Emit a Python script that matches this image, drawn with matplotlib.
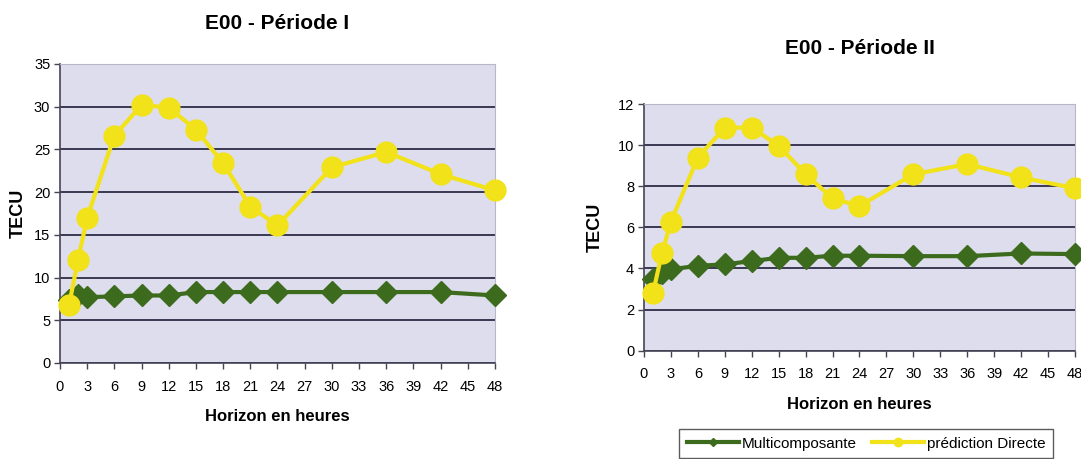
import matplotlib
matplotlib.use("Agg")
import matplotlib.pyplot as plt

# horizon (hours) of each point
heures = [1, 2, 3, 6, 9, 12, 15, 18, 21, 24, 30, 36, 42, 48]

# Periode I
multi_p1 = [7.4, 7.9, 7.7, 7.8, 7.9, 7.9, 8.3, 8.3, 8.3, 8.3, 8.3, 8.3, 8.3, 7.9]
direct_p1 = [6.8, 12.1, 17.0, 26.6, 30.2, 29.9, 27.3, 23.4, 18.3, 16.1, 22.9, 24.7, 22.1, 20.2]

# Periode II
multi_p2 = [3.5, 3.76, 3.96, 4.13, 4.2, 4.36, 4.52, 4.52, 4.62, 4.62, 4.6, 4.6, 4.73, 4.7]
direct_p2 = [2.8, 4.73, 6.28, 9.39, 10.85, 10.85, 9.97, 8.59, 7.41, 7.04, 8.58, 9.08, 8.43, 7.9]

xticks = list(range(0, 49, 3))
titles = ["E00 - Période I", "E00 - Période II"]
labels = ["Multicomposante", "prédiction Directe"]

plt.rcParams['font.family'] = ['Liberation Sans', 'DejaVu Sans']

GREEN = '#3d6b1e'
YELLOW = '#f2e21a'
BG = '#dddded'
GRID = '#2e2c45'

fig = plt.figure(figsize=(10.81, 4.59), dpi=100)
ax1 = fig.add_axes([0.0555, 0.2092, 0.4024, 0.6514])
ax2 = fig.add_axes([0.5957, 0.2359, 0.3987, 0.5375])


def draw(ax, multi, direct, ymax, ystep, title, title_y, ylabelpad):
    ax.set_facecolor(BG)
    ax.plot(heures, multi, color=GREEN, lw=3, marker='D', ms=11,
            mec=GREEN, mfc=GREEN, label=labels[0], zorder=3, clip_on=False)
    ax.plot(heures, direct, color=YELLOW, lw=3, marker='o', ms=15,
            mec=YELLOW, mfc=YELLOW, label=labels[1], zorder=4, clip_on=False)
    ax.set_xlim(0, 48)
    ax.set_ylim(0, ymax)
    ax.set_xticks(xticks)
    ax.set_yticks(range(0, ymax + 1, ystep))
    ax.yaxis.grid(True, color=GRID, lw=1.3)
    ax.set_axisbelow(True)
    for s in ['top', 'right']:
        ax.spines[s].set_color('#b8b8c8')
        ax.spines[s].set_linewidth(0.8)
    for s in ['left', 'bottom']:
        ax.spines[s].set_color('#444455')
        ax.spines[s].set_linewidth(1.2)
    ax.tick_params(labelsize=10.5, length=4, width=1, color='#444455', pad=3)
    ax.tick_params(axis='x', pad=8)
    ax.set_xlabel('Horizon en heures', fontsize=12, fontweight='bold', labelpad=11)
    ax.set_ylabel('TECU', fontsize=13, fontweight='bold', labelpad=ylabelpad)
    ax.set_title(title, fontsize=15, fontweight='bold', y=title_y)


draw(ax1, multi_p1, direct_p1, 35, 5, titles[0], 1.09, 5)
draw(ax2, multi_p2, direct_p2, 12, 2, titles[1], 1.17, 10)

h, l = ax2.get_legend_handles_labels()
leg = fig.legend(h, l, loc='upper left', bbox_to_anchor=(679 / 1081, 1 - 429 / 459),
                 borderaxespad=0, ncol=2, fontsize=11, frameon=True, fancybox=False,
                 edgecolor='#333333', handlelength=3.4, handletextpad=0.2,
                 markerscale=0.4, columnspacing=1.0, borderpad=0.5)
leg.get_frame().set_linewidth(1)

plt.savefig('out.png', dpi=100)
